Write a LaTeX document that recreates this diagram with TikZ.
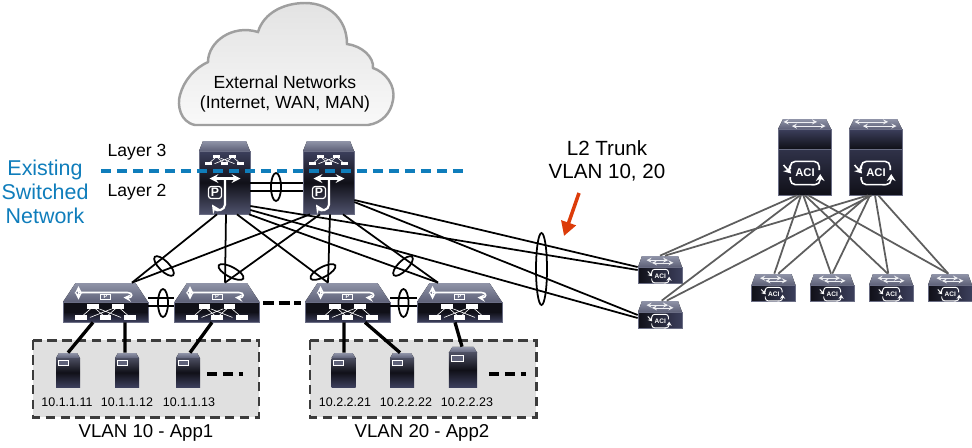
\documentclass[tikz,border=0pt]{standalone}
\usepackage{fontspec}
\setmainfont{Liberation Sans}
\usepackage{tikz}
\usetikzlibrary{shapes.geometric, arrows.meta}

\definecolor{swhi}{HTML}{9094A8}
\definecolor{swlo}{HTML}{5E6178}
\definecolor{swnavy}{HTML}{3C3F5C}
\definecolor{swdark}{HTML}{101018}
\definecolor{swedge}{HTML}{6A6D84}
\definecolor{ciscoblue}{HTML}{0F7DBB}
\definecolor{arrowred}{HTML}{DC3C0A}
\definecolor{uplinkgray}{HTML}{5E5E5E}
\definecolor{boxgray}{HTML}{E0E0E0}
\definecolor{boxedge}{HTML}{3C3C3C}

\tikzset{
  offx/.style={xshift=#1*0.02cm},
  offy/.style={yshift=-#1*0.02cm},
  corebox/.style={inner sep=0, minimum width=1.02cm, minimum height=1.46cm},
  accessbox/.style={inner sep=0, minimum width=1.7cm, minimum height=0.78cm},
  spinebox/.style={inner sep=0, minimum width=1.06cm, minimum height=1.52cm},
  leafbox/.style={inner sep=0, minimum width=0.88cm, minimum height=0.54cm},
  serverbox/.style={inner sep=0, minimum width=0.48cm, minimum height=0.68cm},
  link/.style={black, line width=1pt},
  ethlink/.style={black, line width=1.9pt},
  uplink/.style={uplinkgray, line width=1pt},
  lag/.style={draw=black, ellipse, line width=1pt, inner sep=0},
  ipnum/.style={font=\fontsize{7.1}{8}\selectfont},
  vlanname/.style={font=\fontsize{10.6}{12}\selectfont},
  layername/.style={font=\fontsize{10}{12}\selectfont},
  % icons
  pics/netmark/.style={code={
    \draw[white, line width=0.35pt] (-8,-3.5) -- (-16,3.5) (-8,-3.5) -- (0,3.5) (8,-3.5) -- (0,3.5) (8,-3.5) -- (16,3.5)
      (-4,-2) -- (10,3.5) (4,-2) -- (-10,3.5);
    \foreach \bx/\by in {-8/-3.5, 8/-3.5, -16/3.5, 0/3.5, 16/3.5}
      \fill[white] (\bx-3.75,\by-1.65) rectangle (\bx+3.75,\by+1.65);
  }},
  pics/acimark/.style={code={
    \pgfmathsetmacro{\aciw}{#1*0.9}
    \pgfmathsetmacro{\acir}{#1*3}
    \pgfmathsetmacro{\acif}{#1*6.4}
    \pgfmathsetmacro{\acia}{#1*4}
    \pgfmathsetmacro{\acib}{#1*5}
    \draw[white, line width=\aciw pt, rounded corners=\acir pt] (-14.3,-3) -- (-14.3,-10.7) -- (14.7,-10.7) -- (14.7,-2);
    \draw[white, line width=\aciw pt, rounded corners=\acir pt] (10,12.7) -- (-14.3,12.7) -- (-14.3,5);
    \draw[white, line width=\aciw pt, -{Stealth[length=\acia pt,width=\acib pt]}] (-21,-7) -- (-13.5,1.5);
    \draw[white, line width=\aciw pt, -{Stealth[length=\acia pt,width=\acib pt]}, rounded corners=\acir pt] (11,12.7) -- (15.7,12.7) -- (15.7,2);
    \node[white, inner sep=0, font=\fontsize{\acif}{\acif}\selectfont\bfseries] (-acitext) at (0.5,1) {ACI};
  }},
  pics/acitop/.style={code={
    \draw[white!85!swhi, line width=0.3pt, <->, >=stealth] (-15,-1.5) -- (9,-1.5);
    \draw[white!85!swhi, line width=0.3pt, <->, >=stealth] (-9,1.5) -- (15,1.5);
  }},
  % devices
  pics/coresw/.style={code={
    \fill[top color=swhi, bottom color=swlo] (-25.5,-26.5) -- (-21.5,-36.5) -- (21.5,-36.5) -- (25.5,-26.5) -- cycle;
    \draw[swedge, line width=0.4pt, top color=swnavy, bottom color=swnavy!90!white, middle color=swdark]
      (-25.5,-26.5) rectangle (25.5,36.5);
    \pic at (0,-17.3) {netmark};
    \draw[white, line width=1.2pt, <->, >=stealth] (-15,1) -- (16,1);
    \draw[white, line width=1.2pt, ->, >=stealth] (0.5,1) -- (0.5,27) .. controls (0.5,33) and (-8,34) .. (-12.5,27);
    \draw[white, line width=0.7pt, rounded corners=1.5pt] (-16,9) rectangle (-3,21);
    \node[white, inner sep=0, font=\fontsize{7}{8}\selectfont\bfseries] (-ptext) at (-9.5,15) {P};
  }},
  pics/accesssw/.style={code={
    \fill[top color=swhi, bottom color=swlo] (-42.5,-0.5) -- (-30,-19.5) -- (30,-19.5) -- (42.5,-0.5) -- cycle;
    \draw[swedge, line width=0.4pt, top color=swdark, bottom color=swnavy, middle color=swdark]
      (-42.5,-0.5) rectangle (42.5,19.5);
    \pic[scale=1.55] at (0,9.5) {netmark};
    \draw[white, line width=0.9pt, <->, >=stealth] (-27,-16.5) -- (-27,-3);
    \draw[white, line width=0.9pt, ->, >=stealth] (-27,-10) -- (22,-10) .. controls (28,-10) and (27,-4.5) .. (18,-5);
    \draw[white, line width=0.35pt] (-5,-8) rectangle (5,-3);
    \node[white, inner sep=0, font=\fontsize{3.2}{4}\selectfont\bfseries] (-ptext) at (0,-5.5) {P};
  }},
  pics/spinesw/.style={code={
    \fill[top color=swhi, bottom color=swlo] (-26.5,-28) -- (-21.5,-38) -- (21.5,-38) -- (26.5,-28) -- cycle;
    \draw[swedge, line width=0.4pt, top color=swnavy, bottom color=swdark] (-26.5,-28) rectangle (26.5,-8);
    \draw[swedge, line width=0.4pt, top color=swnavy!80!black, bottom color=swdark] (-26.5,-8) rectangle (26.5,38);
    \pic[scale=1.4] at (0,-33) {acitop};
    \pic at (0,15) {acimark=1};
  }},
  pics/leafsw/.style={code={
    \fill[top color=swhi, bottom color=swlo] (-22,-2.5) -- (-18,-13.5) -- (18,-13.5) -- (22,-2.5) -- cycle;
    \draw[swedge, line width=0.3pt, left color=swdark, right color=swnavy] (-22,-2.5) rectangle (22,13.5);
    \pic[scale=0.9] at (0,-8) {acitop};
    \pic[scale=0.58] at (0,6) {acimark=0.58};
  }},
  pics/serversw/.style={code={
    \fill[top color=swhi, bottom color=swlo] (-12,-12) -- (-9,-17) -- (9,-17) -- (12,-12) -- cycle;
    \fill[top color=swlo!80!black, bottom color=swnavy, middle color=swdark] (-12,-12) rectangle (12,17);
    \draw[white, line width=0.4pt, fill=swlo] (-9.7,-10) rectangle (0,-5);
  }}
}

\begin{document}
\begin{tikzpicture}[x=0.02cm, y=-0.02cm]
  \useasboundingbox (0,0) rectangle (972,447);

  % Cloud
  \draw[draw=gray!75, line width=1.4pt, top color=gray!22, bottom color=gray!5]
    (195,125) .. controls (180,122) and (177,105) .. (180,95)
    .. controls (184,80) and (195,68) .. (208,62)
    .. controls (208,42) and (232,24) .. (258,32)
    .. controls (264,12) and (285,3) .. (305,3)
    .. controls (330,3) and (347,20) .. (347,44)
    .. controls (362,46) and (374,57) .. (373,68)
    .. controls (385,72) and (396,85) .. (393,100)
    .. controls (391,113) and (382,123) .. (368,125) -- cycle;
  \node[font=\fontsize{10}{11.4}\selectfont, align=center] (extnet) at (285,94) {External Networks\\(Internet, WAN, MAN)};

  % VLAN boxes
  \draw[boxedge, fill=boxgray, line width=1.7pt, dash pattern=on 5.5pt off 3pt] (33,340) rectangle (259,417);
  \draw[boxedge, fill=boxgray, line width=1.7pt, dash pattern=on 5.5pt off 3pt] (310,340) rectangle (536,417);

  % Switches
  \foreach \name/\x in {core1/224.5, core2/328.5} {
    \node[corebox] (\name) at (\x,177.5) {};
    \pic at (\name) {coresw};
  }
  \foreach \name/\x in {acc1/105.5, acc2/217, acc3/347.5, acc4/459.5} {
    \node[accessbox] (\name) at (\x,302.5) {};
    \pic at (\name) {accesssw};
  }
  \foreach \name/\x in {spine1/804.5, spine2/875.5} {
    \node[spinebox] (\name) at (\x,157) {};
    \pic at (\name) {spinesw};
  }
  \foreach \name/\x/\y in {bleaf1/660/269.5, bleaf2/660/314.5, leaf1/773.5/287.5, leaf2/832/287.5, leaf3/891/287.5, leaf4/950/287.5} {
    \node[leafbox] (\name) at (\x,\y) {};
    \pic at (\name) {leafsw};
  }

  % Servers
  \foreach \name/\x/\ip/\ipx in {srv1/68/10.1.1.11/67, srv2/127/10.1.1.12/127, srv3/188/10.1.1.13/189, srv4/343.5/10.2.2.21/345, srv5/402/10.2.2.22/406} {
    \node[serverbox] (\name) at (\x,370) {};
    \pic at (\name) {serversw};
    \node[ipnum] (\name ip) at (\ipx,402.5) {\ip};
  }
  \node[serverbox, minimum width=0.56cm, minimum height=0.8cm] (srv6) at (463,367) {};
  \pic[scale=1.18] at (srv6) {serversw};
  \node[ipnum] (srv6ip) at (467,402.5) {10.2.2.23};

  % Core to access
  \foreach \a/\ax/\b/\bx in {core1/-7.5/acc1/26.5, core1/1.5/acc2/8, core1/12.5/acc3/-19.5, core1/24.5/acc4/-21.5,
                             core2/-18.5/acc1/26.5, core2/-8.5/acc2/8, core2/1.5/acc3/-19.5, core2/14.5/acc4/-21.5}
    \draw[link] ([offx=\ax]\a.south) -- ([offx=\bx]\b.north);

  % Core pair, access pairs
  \draw[link] ([offy=5.5]core1.east) -- ([offy=5.5]core2.west);
  \draw[link] ([offy=13.5]core1.east) -- ([offy=13.5]core2.west);
  \draw[link] ([offy=-4.5]acc1.east) -- ([offy=-4.5]acc2.west);
  \draw[link] ([offy=3.5]acc1.east) -- ([offy=3.5]acc2.west);
  \draw[link] ([offy=-4.5]acc3.east) -- ([offy=-4.5]acc4.west);
  \draw[link] ([offy=3.5]acc3.east) -- ([offy=3.5]acc4.west);

  % L2 trunk
  \draw[link] ([offy=22.5]core2.east) -- ([offy=-2.5]bleaf1.west);
  \draw[link] ([offy=28.5]core1.east) -- ([offy=0.5]bleaf1.west);
  \draw[link] ([offy=24.5]core2.east) -- ([offy=0.5]bleaf2.west);
  \draw[link] ([offy=32.5]core1.east) -- ([offy=3.5]bleaf2.west);

  % Access to servers
  \foreach \a/\ax/\b/\bx in {acc1/-12.5/srv1/0, acc1/19.5/srv2/-2, acc2/-5/srv3/2, acc3/-3.5/srv4/0.5, acc3/17.5/srv5/-2, acc4/-4.5/srv6/-1}
    \draw[ethlink] ([offx=\ax]\a.south) -- ([offx=\bx]\b.north);

  % Fabric
  \foreach \a/\ax/\b/\bx in {spine1/-7.8/bleaf1/0, spine1/-4.5/bleaf2/1.7, spine1/-3.5/leaf1/0.8, spine1/-1.2/leaf2/-1, spine1/0.5/leaf3/-3.3, spine1/3.8/leaf4/-1.7,
                             spine2/-7.2/bleaf1/5, spine2/-3.8/bleaf2/6.7, spine2/-7.2/leaf1/4.8, spine2/-5.5/leaf2/0.3, spine2/-0.5/leaf3/-2.7, spine2/2.8/leaf4/-1.7}
    \draw[uplink] ([offx=\ax]\a.south) -- ([offx=\bx]\b.north);

  % Port channel rings
  \node[lag, minimum width=0.2cm, minimum height=0.56cm] (lagcore) at (276,187) {};
  \node[lag, minimum width=0.2cm, minimum height=0.56cm] (lagacc1) at (163,303) {};
  \node[lag, minimum width=0.2cm, minimum height=0.56cm] (lagacc2) at (403.5,303) {};
  \node[lag, minimum width=0.22cm, minimum height=1.44cm] (lagtrunk) at (541.5,269) {};
  \node[lag, minimum width=0.52cm, minimum height=0.2cm, rotate=-45] (lagdown1) at (164,266) {};
  \node[lag, minimum width=0.56cm, minimum height=0.2cm, rotate=-28] (lagdown2) at (231,272) {};
  \node[lag, minimum width=0.56cm, minimum height=0.2cm, rotate=28] (lagdown3) at (323,272) {};
  \node[lag, minimum width=0.52cm, minimum height=0.2cm, rotate=45] (lagdown4) at (403,266) {};

  % More of the same
  \draw[black, line width=2.8pt, dash pattern=on 6.2pt off 2.8pt] ([offx=3,offy=0.5]acc2.east) -- ([offx=-4,offy=0.5]acc3.west);
  \coordinate (more1a) at (207,374);
  \coordinate (more1b) at (243,374);
  \coordinate (more2a) at (489,374);
  \coordinate (more2b) at (526,374);
  \draw[black, line width=2.8pt, dash pattern=on 5.7pt off 3.4pt] (more1a) -- (more1b);
  \draw[black, line width=2.8pt, dash pattern=on 5.7pt off 3.4pt] (more2a) -- (more2b);

  % Layer 3 / Layer 2 border
  \coordinate (borderl) at (101,171);
  \coordinate (borderr) at (465,171);
  \draw[ciscoblue, line width=2.4pt, dash pattern=on 5.7pt off 3.4pt] (borderl) -- (borderr);

  % Trunk pointer
  \coordinate (trunktail) at (579,193);
  \coordinate (trunktip) at (564,236);
  \draw[arrowred, line width=2pt, -{Triangle[length=8pt,width=8.5pt]}] (trunktail) -- (trunktip);

  % Labels
  \node[layername] (layerthree) at (137,152) {Layer 3};
  \node[layername] (layertwo) at (137,192) {Layer 2};
  \node[ciscoblue, font=\fontsize{12.2}{13.6}\selectfont, align=center] (existing) at (45,192) {Existing\\Switched\\Network};
  \node[font=\fontsize{11.7}{13}\selectfont, align=center] (trunklabel) at (607,160.5) {L2 Trunk\\VLAN 10, 20};
  \node[vlanname] (vlanapp1) at (146,433) {VLAN 10 - App1};
  \node[vlanname] (vlanapp2) at (422,433) {VLAN 20 - App2};
\end{tikzpicture}
\end{document}
